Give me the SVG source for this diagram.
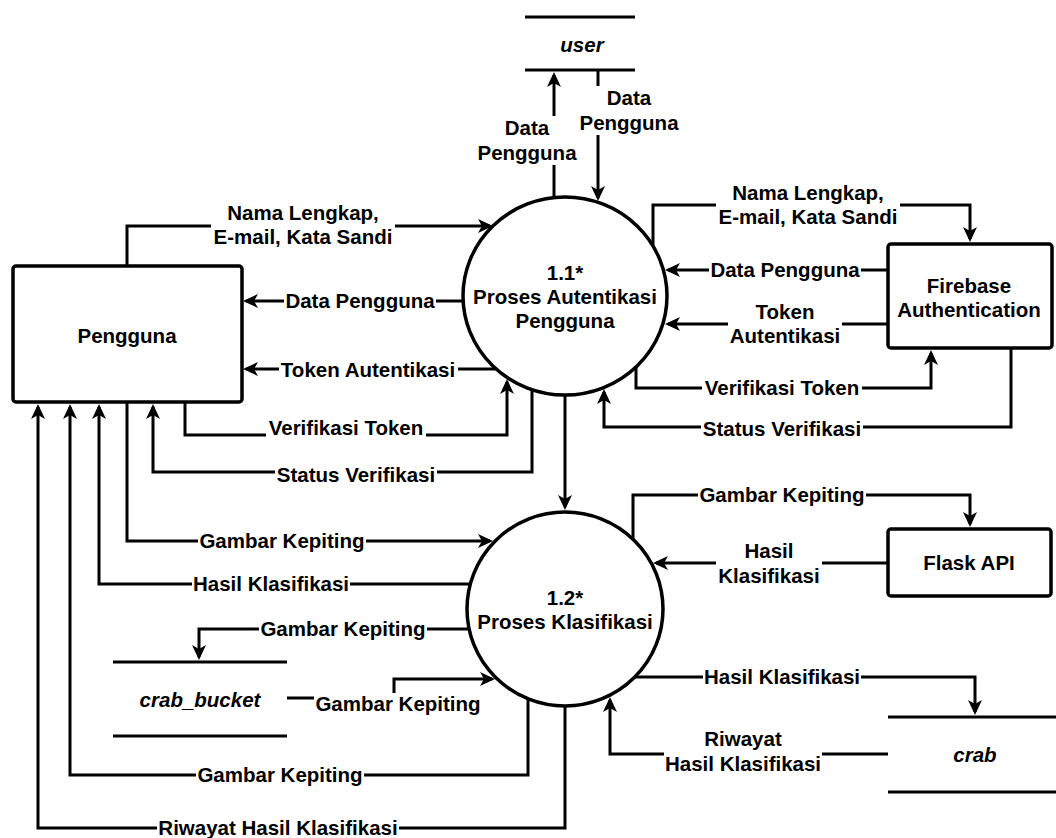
<svg xmlns="http://www.w3.org/2000/svg" width="1056" height="838" viewBox="0 0 1056 838">
<defs>
<marker id="arr" markerUnits="userSpaceOnUse" markerWidth="15" markerHeight="14" viewBox="0 0 15 14" refX="12" refY="7" orient="auto"><path d="M0,0 L15,7 L0,14 L4,7 Z" fill="#000"/></marker>
<style>
.t{font-family:"Liberation Sans",Arial,Helvetica,sans-serif;font-weight:bold;font-size:20.5px;text-anchor:middle;fill:#000}
.i{font-style:italic}
.s{fill:#fff;stroke:#000;stroke-width:3.5}
.st{stroke:#000;stroke-width:3;fill:none}
.c{fill:none;stroke:#000;stroke-width:3;marker-end:url(#arr)}
.bg{fill:#fff}
</style>
</defs>
<rect width="1056" height="838" fill="#fff"/>

<g id="connectors">
<path class="c" d="M127,266 V226 H490"/>
<path class="c" d="M463,301 H246"/>
<path class="c" d="M496,369 H246"/>
<path class="c" d="M185,402 V435 H507 V382"/>
<path class="c" d="M532,390 V472 H153 V407"/>
<path class="c" d="M554,198 V75"/>
<path class="c" d="M598,70 V198"/>
<path class="c" d="M653,246 V205 H970 V239"/>
<path class="c" d="M888,270 H668"/>
<path class="c" d="M888,324 H668"/>
<path class="c" d="M636,367 V388 H931 V353"/>
<path class="c" d="M1011,348 V427 H604 V392"/>
<path class="c" d="M565,395 V507"/>
<path class="c" d="M127,402 V541 H490"/>
<path class="c" d="M470,584 H99 V407"/>
<path class="c" d="M469,629 H199 V657"/>
<path class="c" d="M287,698 H394 V679 H492"/>
<path class="c" d="M528,699 V775 H70 V407"/>
<path class="c" d="M565,706 V828 H38 V407"/>
<path class="c" d="M633,539 V495 H970 V524"/>
<path class="c" d="M888,563 H656"/>
<path class="c" d="M635,677 H975 V712"/>
<path class="c" d="M888,754 H610 V700"/>

<g id="labels">
<rect class="bg" x="211" y="201" width="184" height="48"/>
<text class="t" x="303" y="220">Nama Lengkap,</text>
<text class="t" x="303" y="244">E-mail, Kata Sandi</text>
<rect class="bg" x="284" y="290" width="152" height="22"/>
<text class="t" x="360" y="308">Data Pengguna</text>
<rect class="bg" x="279" y="359" width="179" height="22"/>
<text class="t" x="368" y="377">Token Autentikasi</text>
<rect class="bg" x="266" y="417" width="160" height="22"/>
<text class="t" x="346" y="435">Verifikasi Token</text>
<rect class="bg" x="275" y="464" width="162" height="22"/>
<text class="t" x="356" y="482">Status Verifikasi</text>
<rect class="bg" x="474" y="116" width="106" height="49"/>
<text class="t" x="527" y="135">Data</text>
<text class="t" x="527" y="160">Pengguna</text>
<rect class="bg" x="577" y="86" width="104" height="49"/>
<text class="t" x="629" y="105">Data</text>
<text class="t" x="629" y="130">Pengguna</text>
<rect class="bg" x="716" y="181" width="184" height="48"/>
<text class="t" x="808" y="200">Nama Lengkap,</text>
<text class="t" x="808" y="224">E-mail, Kata Sandi</text>
<rect class="bg" x="709" y="259" width="152" height="22"/>
<text class="t" x="785" y="277">Data Pengguna</text>
<rect class="bg" x="728" y="300" width="114" height="48"/>
<text class="t" x="785" y="319">Token</text>
<text class="t" x="785" y="343">Autentikasi</text>
<rect class="bg" x="702" y="377" width="160" height="22"/>
<text class="t" x="782" y="395">Verifikasi Token</text>
<rect class="bg" x="701" y="418" width="162" height="22"/>
<text class="t" x="782" y="436">Status Verifikasi</text>
<rect class="bg" x="198" y="530" width="168" height="22"/>
<text class="t" x="282" y="548">Gambar Kepiting</text>
<rect class="bg" x="192" y="573" width="158" height="22"/>
<text class="t" x="271" y="591">Hasil Klasifikasi</text>
<rect class="bg" x="259" y="618" width="168" height="22"/>
<text class="t" x="343" y="636">Gambar Kepiting</text>
<rect class="bg" x="314" y="693" width="168" height="22"/>
<text class="t" x="398" y="711">Gambar Kepiting</text>
<rect class="bg" x="196" y="764" width="168" height="22"/>
<text class="t" x="280" y="782">Gambar Kepiting</text>
<rect class="bg" x="157" y="817" width="242" height="21"/>
<text class="t" x="278" y="835">Riwayat Hasil Klasifikasi</text>
<rect class="bg" x="698" y="484" width="168" height="22"/>
<text class="t" x="782" y="502">Gambar Kepiting</text>
<rect class="bg" x="716" y="539" width="106" height="49"/>
<text class="t" x="769" y="558">Hasil</text>
<text class="t" x="769" y="583">Klasifikasi</text>
<rect class="bg" x="703" y="666" width="158" height="22"/>
<text class="t" x="782" y="684">Hasil Klasifikasi</text>
<rect class="bg" x="664" y="727" width="158" height="49"/>
<text class="t" x="743" y="746">Riwayat</text>
<text class="t" x="743" y="771">Hasil Klasifikasi</text>
</g>
</g>

<g id="pengguna">
<rect class="s" x="13" y="266" width="229" height="136" rx="3"/>
<text class="t" x="127" y="343">Pengguna</text>
</g>
<g id="proses-1-1">
<ellipse class="s" cx="565" cy="296" rx="102" ry="99"/>
<text class="t" x="565" y="280">1.1*</text>
<text class="t" x="565" y="304">Proses Autentikasi</text>
<text class="t" x="565" y="328">Pengguna</text>
</g>
<g id="proses-1-2">
<ellipse class="s" cx="565" cy="609" rx="98" ry="97"/>
<text class="t" x="565" y="605">1.2*</text>
<text class="t" x="565" y="629">Proses Klasifikasi</text>
</g>
<g id="firebase">
<rect class="s" x="888" y="244" width="164" height="104" rx="3"/>
<text class="t" x="969" y="293">Firebase</text>
<text class="t" x="969" y="317">Authentication</text>
</g>
<g id="flask">
<rect class="s" x="888" y="529" width="163" height="67" rx="3"/>
<text class="t" x="969" y="570">Flask API</text>
</g>
<g id="store-user">
<line class="st" x1="525" y1="17" x2="635" y2="17"/>
<line class="st" x1="525" y1="70" x2="635" y2="70"/>
<text class="t i" x="582" y="52">user</text>
</g>
<g id="store-crab-bucket">
<line class="st" x1="113" y1="662" x2="287" y2="662"/>
<line class="st" x1="113" y1="736" x2="287" y2="736"/>
<text class="t i" x="200" y="707">crab_bucket</text>
</g>
<g id="store-crab">
<line class="st" x1="888" y1="717" x2="1056" y2="717"/>
<line class="st" x1="888" y1="792" x2="1056" y2="792"/>
<text class="t i" x="975" y="762">crab</text>
</g>
</svg>
